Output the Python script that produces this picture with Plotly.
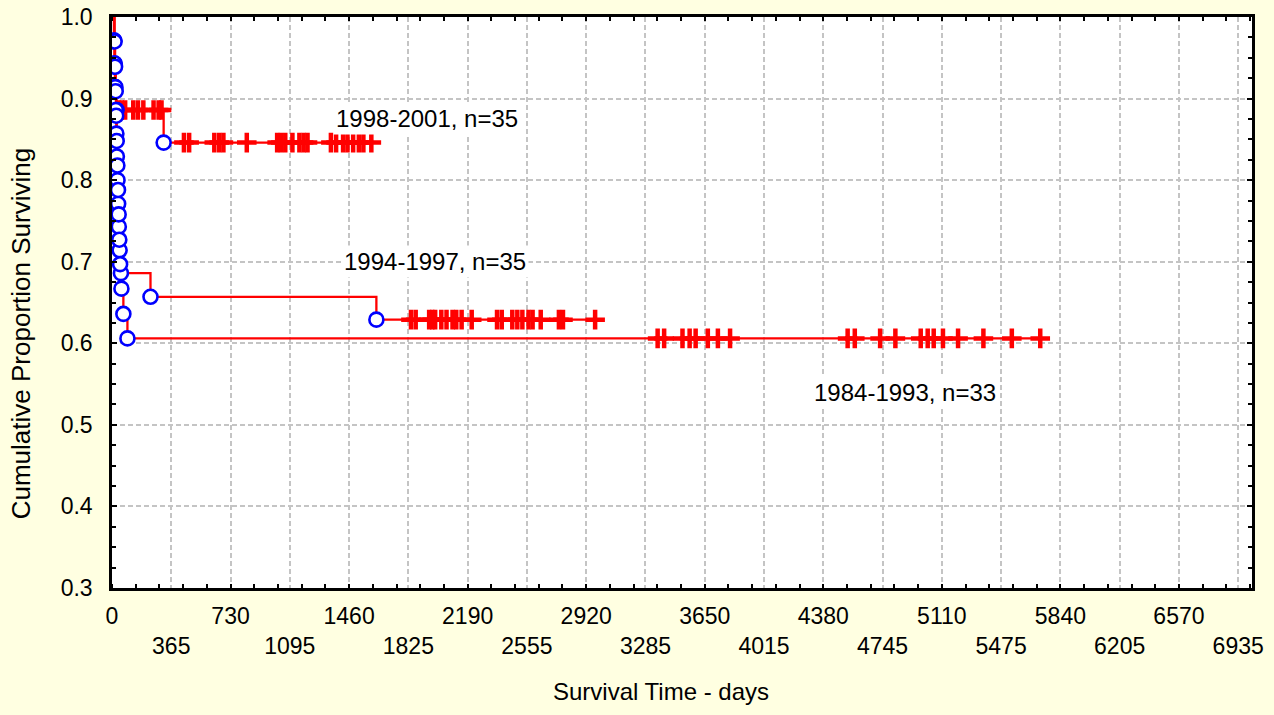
import plotly.graph_objects as go

# ---------------- data ----------------
groups = ["1998-2001, n=35", "1994-1997, n=35", "1984-1993, n=33"]

# 1998-2001
g1_death_days = [12, 15, 18, 28, 318]
g1_death_surv = [0.971, 0.943, 0.914, 0.886, 0.846]
g1_censor_days = [40, 60, 81, 131, 160, 193, 256, 287, 305,
                  443, 475, 630, 660, 686, 830, 1017, 1040, 1067, 1111, 1154,
                  1180, 1204, 1348, 1380, 1423, 1450, 1485, 1520, 1548, 1597]

# 1994-1997
g2_death_days = [14, 17, 21, 24, 27, 30, 34, 38, 42, 47, 55, 237, 1628]
g2_death_surv = [0.971, 0.943, 0.914, 0.886, 0.857, 0.829, 0.800, 0.771,
                 0.743, 0.714, 0.686, 0.657, 0.629]
g2_censor_days = [1841, 1870, 1953, 1972, 1990, 2028, 2060, 2097, 2120, 2153,
                  2215, 2371, 2400, 2465, 2496, 2527, 2565, 2590, 2640, 2752,
                  2777, 2975]

# 1984-1993
g3_death_days = [16, 19, 23, 26, 29, 33, 37, 41, 45, 50, 58, 70, 95]
g3_death_surv = [0.970, 0.939, 0.909, 0.879, 0.848, 0.818, 0.788, 0.758,
                 0.727, 0.697, 0.667, 0.636, 0.606]
g3_censor_days = [3360, 3400, 3513, 3557, 3594, 3669, 3731, 3806, 4530, 4574,
                  4730, 4824, 4980, 5023, 5060, 5117, 5210, 5366, 5541, 5716]

label_x = [1942, 1991, 4884]
label_y = [0.876, 0.700, 0.540]

x_tick_vals = [365 * i for i in range(20)]
y_tick_vals = [0.3, 0.4, 0.5, 0.6, 0.7, 0.8, 0.9, 1.0]
y_tick_text = ["0.3", "0.4", "0.5", "0.6", "0.7", "0.8", "0.9", "1.0"]

# ---------------- figure ----------------
RED = "#FF0000"
BLUE = "#0000FF"
FONT = "Liberation Sans, Arial, sans-serif"
BG = "#FFFFE1"
GRID = "#C4C4C4"


def level_at(t, days, surv):
    lvl = 1.0
    for d, s in zip(days, surv):
        if d <= t:
            lvl = s
    return lvl


def step_xy(days, surv, censors):
    xs = [0]
    ys = [1.0]
    for d, s in zip(days, surv):
        xs.append(d)
        ys.append(s)
    end = max(censors + days)
    xs.append(end)
    ys.append(level_at(end, days, surv))
    return xs, ys


fig = go.Figure()
all_groups = [
    (g1_death_days, g1_death_surv, g1_censor_days),
    (g2_death_days, g2_death_surv, g2_censor_days),
    (g3_death_days, g3_death_surv, g3_censor_days),
]

for days, surv, cens in all_groups:
    xs, ys = step_xy(days, surv, cens)
    fig.add_trace(go.Scatter(x=xs, y=ys, mode="lines",
                             line=dict(color=RED, width=2.3, shape="hv"),
                             showlegend=False, hoverinfo="skip"))

for days, surv, cens in all_groups:
    fig.add_trace(go.Scatter(x=cens, y=[level_at(c, days, surv) for c in cens],
                             mode="markers",
                             marker=dict(symbol="cross-thin", size=14,
                                         line=dict(color=RED, width=4.5)),
                             showlegend=False, hoverinfo="skip"))

for days, surv, cens in all_groups:
    fig.add_trace(go.Scatter(x=days, y=surv, mode="markers",
                             marker=dict(symbol="circle", size=14, color="white",
                                         line=dict(color=BLUE, width=2.6)),
                             showlegend=False, hoverinfo="skip"))

for txt, lx, ly in zip(groups, label_x, label_y):
    fig.add_annotation(x=lx, y=ly, text=txt, showarrow=False,
                       font=dict(family=FONT, size=24, color="black"),
                       bgcolor="white", borderpad=2)

x_tick_text = [str(v) if i % 2 == 0 else "<br>" + str(v)
               for i, v in enumerate(x_tick_vals)]

fig.update_xaxes(range=[0, 7020], tickmode="array", tickvals=x_tick_vals,
                 ticktext=x_tick_text, showgrid=True, gridcolor=GRID,
                 griddash="5px,3px", gridwidth=2, zeroline=False,
                 showline=True, linecolor="black", linewidth=2.5, mirror="ticks",
                 ticks="", ticklabelstandoff=6, automargin=False,
                 minor=dict(tick0=0, dtick=146, ticks="inside", ticklen=4,
                            tickcolor="black", tickwidth=1.5, showgrid=False),
                 tickfont=dict(family=FONT, size=23, color="black"))

fig.update_yaxes(range=[0.3, 1.0], tickmode="array", tickvals=y_tick_vals,
                 ticktext=y_tick_text, showgrid=True, gridcolor=GRID,
                 griddash="5px,3px", gridwidth=2, zeroline=False,
                 showline=True, linecolor="black", linewidth=2.5, mirror="ticks",
                 ticks="inside", ticklen=5, tickcolor="black", tickwidth=1.5,
                 ticklabelstandoff=12, automargin=False,
                 minor=dict(dtick=0.025, ticks="inside", ticklen=4,
                            tickcolor="black", tickwidth=1.5, showgrid=False),
                 tickfont=dict(family=FONT, size=23, color="black"))

fig.add_annotation(xref="paper", yref="paper", x=-0.0795, y=0.445,
                   text="Cumulative Proportion Surviving", textangle=-90,
                   showarrow=False, xanchor="center", yanchor="middle",
                   font=dict(family=FONT, size=26, color="black"))
fig.add_annotation(xref="paper", yref="paper", x=0.4816, y=-0.182,
                   text="Survival Time - days", showarrow=False,
                   xanchor="center", yanchor="middle",
                   font=dict(family=FONT, size=24, color="black"))

fig.update_layout(width=1274, height=715,
                  margin=dict(l=112, r=22, t=17, b=127),
                  paper_bgcolor=BG, plot_bgcolor="white",
                  showlegend=False)

fig.write_html("out.html", config={"displayModeBar": False},
               post_script="document.body.style.margin='0';"
                           "document.body.style.background='%s';" % BG)
